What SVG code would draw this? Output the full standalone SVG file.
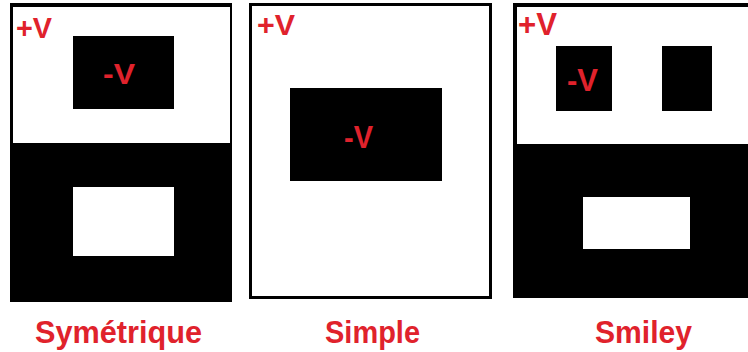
<svg xmlns="http://www.w3.org/2000/svg" width="748" height="352" viewBox="0 0 748 352">
<style>
.blk{fill:#000}
.wht{fill:#fff}
.v{fill:#e0222c;font-family:"Liberation Sans",Arial,sans-serif;font-weight:bold}
.lbl{fill:#e0222c;font-family:"Liberation Sans",Arial,sans-serif;font-weight:bold;font-size:32px}
</style>
<rect width="748" height="352" fill="#fff"/>
<g id="symetrique">
<rect class="blk" x="10" y="3" width="222" height="299"/>
<rect class="wht" x="13" y="7" width="217" height="136"/>
<rect class="blk" x="73" y="36" width="101" height="73"/>
<rect class="wht" x="73" y="187" width="101" height="69"/>
<text class="v" x="16" y="38" font-size="29" textLength="36" lengthAdjust="spacingAndGlyphs">+V</text>
<text class="v" x="103" y="84" font-size="29" textLength="32" lengthAdjust="spacingAndGlyphs">-V</text>
<text class="lbl" x="35" y="343" textLength="167" lengthAdjust="spacingAndGlyphs">Symétrique</text>
</g>
<g id="simple">
<rect x="250.5" y="4.5" width="240" height="293" fill="#fff" stroke="#000" stroke-width="3"/>
<rect class="blk" x="290" y="88" width="152" height="93"/>
<text class="v" x="257" y="35" font-size="30" textLength="38" lengthAdjust="spacingAndGlyphs">+V</text>
<text class="v" x="344" y="148" font-size="31" textLength="29" lengthAdjust="spacingAndGlyphs">-V</text>
<text class="lbl" x="325" y="343" textLength="95" lengthAdjust="spacingAndGlyphs">Simple</text>
</g>
<g id="smiley">
<rect class="blk" x="513" y="3" width="235" height="295"/>
<rect class="wht" x="517" y="7" width="231" height="137"/>
<rect class="blk" x="556" y="46" width="56" height="65"/>
<rect class="blk" x="662" y="46" width="50" height="65"/>
<rect class="wht" x="583" y="197" width="107" height="52"/>
<text class="v" x="518" y="35" font-size="31" textLength="39" lengthAdjust="spacingAndGlyphs">+V</text>
<text class="v" x="567" y="91" font-size="31" textLength="31" lengthAdjust="spacingAndGlyphs">-V</text>
<text class="lbl" x="595" y="343" textLength="97" lengthAdjust="spacingAndGlyphs">Smiley</text>
</g>
<g id="connectors"/>
</svg>
